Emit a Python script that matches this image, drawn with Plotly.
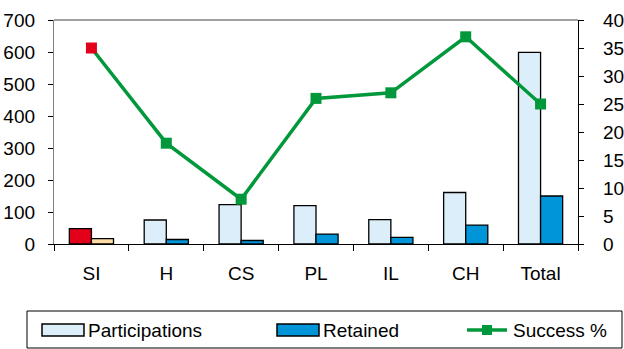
import plotly.graph_objects as go

# Data
categories = ["SI", "H", "CS", "PL", "IL", "CH", "Total"]
participations = [48, 75, 123, 120, 76, 161, 599]
retained = [17, 14, 11, 31, 21, 59, 150]
success_pct = [35, 18, 8, 26, 27, 37, 25]

FONT = "Liberation Sans, Arial, sans-serif"
FS = 19

LIGHT = "#DDEEFB"
BLUE = "#0094D8"
RED = "#E2001A"
TAN = "#FBDCA6"
GREEN = "#00983A"

part_colors = [RED] + [LIGHT] * (len(categories) - 1)
ret_colors = [TAN] + [BLUE] * (len(categories) - 1)
line_marker_colors = [RED] + [GREEN] * (len(categories) - 1)

# Figure geometry (pixels)
W, H = 624, 349
ML, MR, MT, MB = 54, 46, 20, 105
PW, PH = W - ML - MR, H - MT - MB


def px(x):
    return (x - ML) / PW


def py(y):
    return (H - MB - y) / PH


fig = go.Figure()
fig.add_trace(go.Bar(
    x=categories, y=participations, name="Participations",
    marker=dict(color=part_colors, line=dict(color="black", width=1.3)),
    showlegend=False,
))
fig.add_trace(go.Bar(
    x=categories, y=retained, name="Retained",
    marker=dict(color=ret_colors, line=dict(color="black", width=1.3)),
    showlegend=False,
))
fig.add_trace(go.Scatter(
    x=categories, y=success_pct, name="Success %", yaxis="y2",
    mode="lines+markers",
    line=dict(color=GREEN, width=3.5),
    marker=dict(symbol="square", size=11, color=line_marker_colors,
                line=dict(width=0)),
    showlegend=False,
))

fig.update_layout(
    width=W, height=H,
    margin=dict(l=ML, r=MR, t=MT, b=MB, pad=0, autoexpand=False),
    paper_bgcolor="white", plot_bgcolor="white",
    font=dict(family=FONT, size=FS, color="black"),
    barmode="group", bargap=0.41, bargroupgap=0,
    xaxis=dict(
        type="category", range=[-0.5, len(categories) - 0.5],
        automargin=False,
        showline=True, linecolor="black", linewidth=1.3,
        ticks="outside", tickson="boundaries", ticklen=6, tickcolor="black",
        tickwidth=1, showgrid=False, ticklabelstandoff=12,
        tickfont=dict(family=FONT, size=FS),
    ),
    yaxis=dict(
        range=[0, 700], dtick=100, showgrid=False, zeroline=False,
        automargin=False,
        showline=True, linecolor="#808080", linewidth=1.3,
        ticks="outside", ticklen=5, tickcolor="black", tickwidth=1,
        ticklabelstandoff=9, tickfont=dict(family=FONT, size=FS),
    ),
    yaxis2=dict(
        range=[0, 40], dtick=5, overlaying="y", side="right",
        automargin=False,
        showgrid=False, zeroline=False,
        showline=True, linecolor="black", linewidth=1.3,
        ticks="outside", ticklen=5, tickcolor="black", tickwidth=1,
        ticklabelstandoff=15, tickfont=dict(family=FONT, size=FS),
    ),
)

# Plot-area top border
fig.add_shape(type="line", xref="paper", yref="paper", x0=0, x1=1, y0=1, y1=1,
              line=dict(color="#808080", width=1.3))

# Legend box
fig.add_shape(type="rect", xref="paper", yref="paper",
              x0=px(27), x1=px(622), y0=py(348), y1=py(311),
              line=dict(color="black", width=1), fillcolor="white", layer="below")

ly = 330
# Participations swatch
fig.add_shape(type="rect", xref="paper", yref="paper",
              x0=px(42), x1=px(84), y0=py(336), y1=py(324),
              line=dict(color="black", width=1.5), fillcolor=LIGHT)
# Retained swatch
fig.add_shape(type="rect", xref="paper", yref="paper",
              x0=px(277), x1=px(319), y0=py(336), y1=py(324),
              line=dict(color="black", width=1.5), fillcolor=BLUE)
# Success % swatch: line + square marker
fig.add_shape(type="line", xref="paper", yref="paper",
              x0=px(467), x1=px(507), y0=py(ly), y1=py(ly),
              line=dict(color=GREEN, width=3.5))
fig.add_shape(type="rect", xref="paper", yref="paper",
              x0=px(482), x1=px(492), y0=py(ly + 5), y1=py(ly - 5),
              line=dict(width=0), fillcolor=GREEN)

for label, x0 in [("Participations", 87), ("Retained", 322), ("Success %", 512)]:
    fig.add_annotation(text=label, xref="paper", yref="paper",
                       x=px(x0), y=py(ly), xanchor="left", yanchor="middle",
                       showarrow=False, borderpad=0,
                       font=dict(family=FONT, size=FS))

fig.write_html("out.html")
